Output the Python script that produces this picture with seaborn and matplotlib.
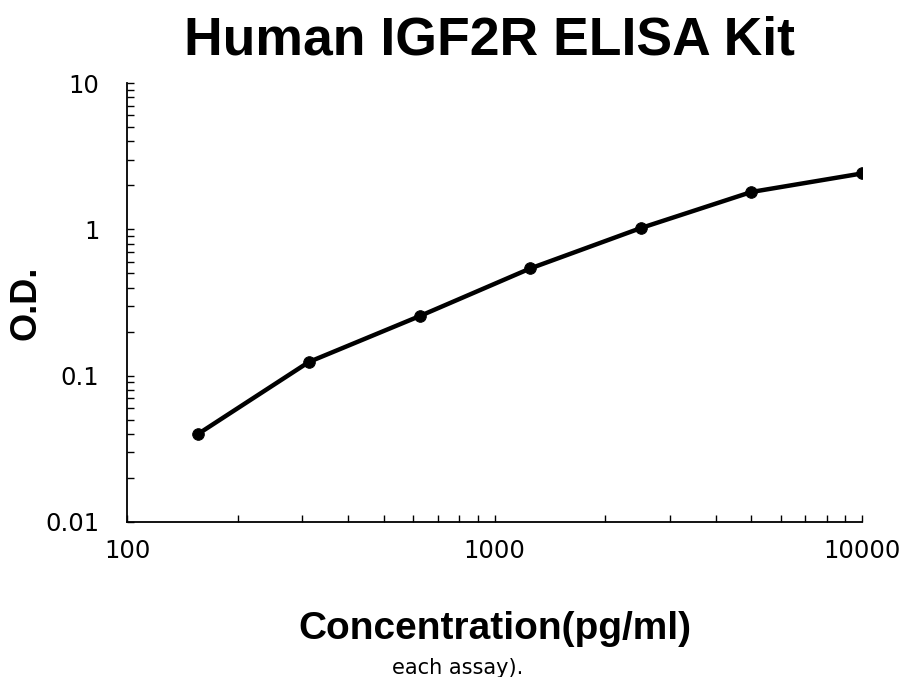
"""
Human IGF2R ELISA Kit standard curve (log-log)
"""

import matplotlib
matplotlib.use('Agg')
import matplotlib.pyplot as plt
import matplotlib.ticker as mticker
import seaborn as sns
import pandas as pd

## Data
concentration = [156.25, 312.5, 625, 1250, 2500, 5000, 10000]
od = [0.040, 0.124, 0.255, 0.54, 1.02, 1.80, 2.41]

df = pd.DataFrame({'conc': concentration, 'od': od})

## Style
sns.set_theme(style='ticks')
plt.rcParams['font.family'] = ['DejaVu Sans']
plt.rcParams['text.color'] = 'black'
plt.rcParams['axes.labelcolor'] = 'black'

fig = plt.figure(figsize=(9.02, 6.77), dpi=100)
ax = fig.add_axes([0.1408, 0.229, 0.815, 0.6484])

# Curve and points
sns.lineplot(data=df, x='conc', y='od', color='black', linewidth=3.2, ax=ax)
sns.scatterplot(data=df, x='conc', y='od', color='black', s=70, edgecolor='black', ax=ax, zorder=3)

ax.set_xscale('log')
ax.set_yscale('log')
ax.set_xlim(100, 10000)
ax.set_ylim(0.01, 10)

# Tick labels
fmt = mticker.FuncFormatter(lambda v, p: '{:g}'.format(v))
ax.xaxis.set_major_locator(mticker.FixedLocator([100, 1000, 10000]))
ax.yaxis.set_major_locator(mticker.FixedLocator([0.01, 0.1, 1, 10]))
ax.xaxis.set_major_formatter(fmt)
ax.yaxis.set_major_formatter(fmt)
ax.xaxis.set_minor_locator(mticker.LogLocator(base=10, subs=range(2, 10)))
ax.yaxis.set_minor_locator(mticker.LogLocator(base=10, subs=range(2, 10)))
ax.xaxis.set_minor_formatter(mticker.NullFormatter())
ax.yaxis.set_minor_formatter(mticker.NullFormatter())

ax.tick_params(axis='both', which='major', direction='in', length=5, width=1,
               labelsize=17.5, colors='black')
ax.tick_params(axis='x', which='major', pad=12)
ax.tick_params(axis='y', which='major', pad=20)
ax.tick_params(axis='both', which='minor', direction='in', length=5, width=1, colors='black')

for side in ['top', 'right']:
    ax.spines[side].set_visible(False)
for side in ['left', 'bottom']:
    ax.spines[side].set_color('black')
    ax.spines[side].set_linewidth(1.3)

# Labels
bold_font = ['Liberation Sans Narrow', 'Liberation Sans', 'DejaVu Sans']
ax.set_xlabel('Concentration(pg/ml)', fontsize=28, fontweight='bold', family=bold_font,
              color='black', labelpad=35)
ax.set_ylabel('O.D.', fontsize=26, fontweight='bold', family=['Liberation Sans', 'DejaVu Sans'],
              color='black', va='center')
ax.yaxis.set_label_coords(-0.137, 0.5)

fig.text(0.543, 0.94, 'Human IGF2R ELISA Kit', ha='center', va='center', color='black',
         fontsize=38.5, fontweight='bold', family=['Liberation Sans', 'DejaVu Sans'])

fig.text(0.507, 0.013, 'each assay).', ha='center', va='center', fontsize=15, color='black')

plt.savefig('out.png', dpi=100)
